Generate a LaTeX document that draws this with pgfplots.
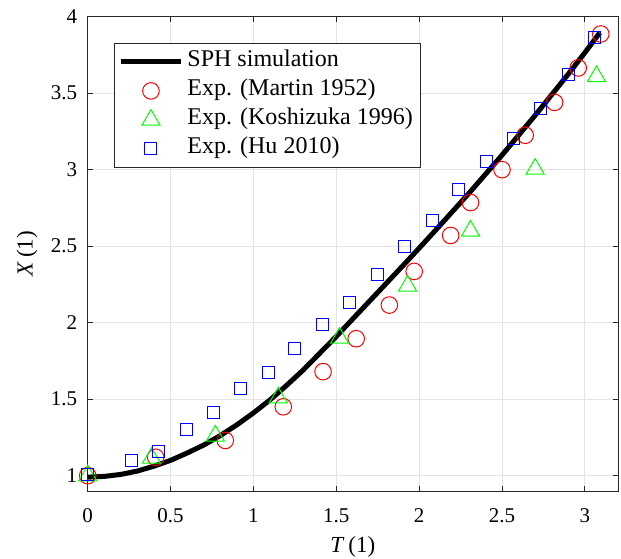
\documentclass[border=0pt]{standalone}
\usepackage{pgfplots}
\pgfplotsset{compat=1.18}
\usepackage{fontspec}
\setmainfont{Liberation Serif}
\definecolor{axgray}{HTML}{262626}
\definecolor{gridgray}{HTML}{E3E3E3}
\definecolor{mred}{rgb}{1,0,0}
\definecolor{mgreen}{rgb}{0,1,0}
\definecolor{mblue}{rgb}{0,0,1}
\pgfplotsset{
  lineleg/.style={legend image code/.code={\draw[##1] (0pt,0pt) -- (30pt,0pt);}},
  markleg/.style={legend image code/.code={\draw[##1] plot coordinates {(15pt,0pt)};}},
}
\begin{document}
\begin{tikzpicture}
\begin{axis}[
  name=ax,
  scale only axis,
  width=265pt, height=237pt,
  xmin=0, xmax=3.2, ymin=0.9, ymax=4,
  xtick={0,0.5,1,1.5,2,2.5,3},
  ytick={1,1.5,2,2.5,3,3.5,4},
  xticklabels={0,0.5,1,1.5,2,2.5,3},
  yticklabels={1,1.5,2,2.5,3,3.5,4},
  tick align=inside, tick pos=both,
  major tick length=2.5pt,
  every tick/.style={axgray, line width=0.4pt},
  axis line style={axgray, line width=0.4pt},
  grid=major,
  major grid style={gridgray, line width=0.5pt},
  tick label style={font=\fontsize{10.5}{12}\selectfont, text=black},
  xticklabel style={anchor=base, yshift=-16pt},
  yticklabel style={anchor=east, xshift=-1.8pt},
  xlabel={\textit{T}\,(1)},
  ylabel={\textit{X}\,(1)},
  label style={font=\fontsize{11.5}{13}\selectfont},
  xlabel style={at={(axis description cs:0.5,-0.1177)}, anchor=center},
  ylabel style={at={(axis description cs:-0.1143,0.5)}, anchor=center},
  legend cell align=left,
  legend style={at={(axis description cs:0.0496,0.9445)}, anchor=north west,
    draw=axgray, line width=0.4pt, fill=white,
    font=\fontsize{12}{14}\selectfont,
    inner xsep=2pt, inner ysep=2pt, row sep=0pt,
    nodes={text height=8pt, text depth=3pt, inner ysep=1.75pt, inner xsep=2pt}},
]
\addplot[black, line width=2.5pt, no marks, lineleg]
coordinates {
(0,0.99)(0.1,0.995)(0.2,1.008)(0.3,1.03)(0.4,1.062)(0.5,1.10)(0.6,1.148)
(0.7,1.20)(0.8,1.262)(0.9,1.332)(1.0,1.41)(1.1,1.495)(1.2,1.59)(1.3,1.69)
(1.4,1.80)(1.5,1.91)(1.6,2.025)(1.7,2.14)(1.8,2.255)(1.9,2.37)(2.0,2.487)
(2.1,2.605)(2.2,2.725)(2.3,2.845)(2.4,2.97)(2.5,3.095)(2.6,3.225)(2.7,3.355)
(2.8,3.49)(2.9,3.625)(3.0,3.765)(3.09,3.895)};
\addlegendentry{SPH simulation}
\addplot[only marks, draw=mred, mark=o, mark size=4.15pt, line width=0.5pt,
  mark options={draw=mred, fill=none, solid}, markleg]
coordinates {
(0,1.0)(0.41,1.12)(0.83,1.23)(1.18,1.45)(1.42,1.68)(1.62,1.895)(1.82,2.115)
(1.97,2.335)(2.19,2.57)(2.31,2.785)(2.50,3.0)(2.64,3.225)(2.817,3.44)
(2.96,3.665)(3.096,3.887)};
\addlegendentry{Exp. (Martin 1952)}
\addplot[only marks, draw=mgreen, mark=triangle, mark size=5.2pt, line width=0.5pt,
  mark options={draw=mgreen, fill=none, solid}, markleg]
coordinates {
(0,1.0)(0.385,1.115)(0.77,1.26)(1.15,1.51)(1.52,1.9)(1.93,2.24)(2.31,2.60)
(2.70,3.005)(3.07,3.61)};
\addlegendentry{Exp. (Koshizuka 1996)}
\addplot[only marks, draw=mblue, mark=square, mark size=3pt, line width=0.5pt,
  mark options={draw=mblue, fill=none, solid}, markleg]
coordinates {
(0,1.01)(0.265,1.096)(0.43,1.16)(0.594,1.30)(0.76,1.415)(0.922,1.567)
(1.088,1.675)(1.249,1.83)(1.417,1.985)(1.58,2.13)(1.75,2.315)(1.91,2.50)
(2.078,2.67)(2.239,2.87)(2.407,3.053)(2.57,3.205)(2.735,3.40)(2.90,3.62)
(3.06,3.862)};
\addlegendentry{Exp. (Hu 2010)}
\end{axis}
\pgfresetboundingbox
\path[use as bounding box] ([xshift=-43.85pt,yshift=-34pt]ax.south west) rectangle ([xshift=1.5pt,yshift=8.35pt]ax.north east);
\end{tikzpicture}
\end{document}
